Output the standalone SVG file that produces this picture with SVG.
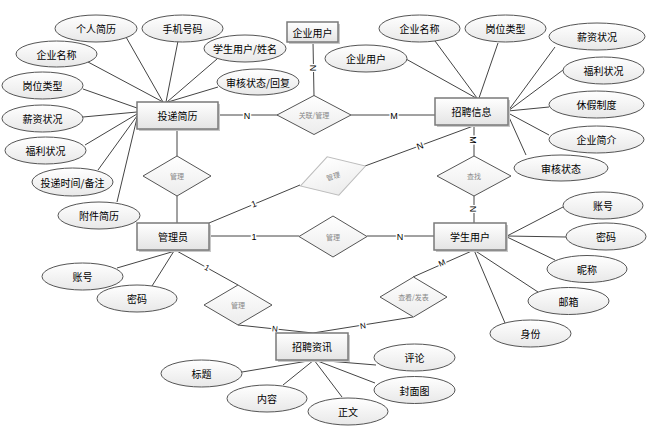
<svg xmlns="http://www.w3.org/2000/svg" width="657" height="434" viewBox="0 0 657 434">
<defs>
<linearGradient id="gEnt" x1="0" y1="0" x2="0" y2="1"><stop offset="0" stop-color="#ffffff"/><stop offset="1" stop-color="#e4e4e4"/></linearGradient>
<linearGradient id="gEll" x1="0" y1="0" x2="0" y2="1"><stop offset="0" stop-color="#ffffff"/><stop offset="1" stop-color="#e8e8e8"/></linearGradient>
<linearGradient id="gDia" x1="0" y1="0" x2="0" y2="1"><stop offset="0" stop-color="#ffffff"/><stop offset="1" stop-color="#ececec"/></linearGradient>
</defs>
<style>
.ln{stroke:#444;stroke-width:1;fill:none}
.ent{fill:url(#gEnt);stroke:#7a7a7a;stroke-width:1.5}
.sh{fill:#c8c8c8}
.ell{fill:url(#gEll);stroke:#555;stroke-width:1}
.dia{fill:url(#gDia);stroke:#555;stroke-width:1}
.diaf{fill:url(#gDia);stroke:#bdbdbd;stroke-width:1}
.t{font-family:"Noto Sans CJK SC","Liberation Sans",sans-serif;font-size:10px;fill:#000;text-anchor:middle;dominant-baseline:central}
.td{font-family:"Noto Sans CJK SC","Liberation Sans",sans-serif;font-size:7px;fill:#888;text-anchor:middle;dominant-baseline:central}
.lb{font-family:"Liberation Sans",sans-serif;font-size:9px;fill:#000;text-anchor:middle;dominant-baseline:central;stroke:#fff;stroke-width:3;paint-order:stroke}
</style>
<rect width="657" height="434" fill="#fff"/>
<g id="connectors">
<!-- 投递简历 attributes -->
<line class="ln" x1="126" y1="37" x2="163" y2="102"/>
<line class="ln" x1="178" y1="41" x2="166" y2="102"/>
<line class="ln" x1="88" y1="62" x2="163" y2="102"/>
<line class="ln" x1="217" y1="59" x2="167" y2="102"/>
<line class="ln" x1="218" y1="87" x2="168" y2="102"/>
<line class="ln" x1="83" y1="89" x2="137" y2="108"/>
<line class="ln" x1="83" y1="117" x2="137" y2="112"/>
<line class="ln" x1="85" y1="145" x2="137" y2="114"/>
<line class="ln" x1="98" y1="170" x2="137" y2="116"/>
<line class="ln" x1="117" y1="202" x2="137" y2="118"/>
<!-- 招聘信息 attributes -->
<line class="ln" x1="435" y1="41" x2="477" y2="98"/>
<line class="ln" x1="498" y1="43" x2="479" y2="98"/>
<line class="ln" x1="406" y1="59" x2="476" y2="98"/>
<line class="ln" x1="555" y1="47" x2="508" y2="111"/>
<line class="ln" x1="563" y1="70" x2="508" y2="111"/>
<line class="ln" x1="549" y1="107" x2="508" y2="111"/>
<line class="ln" x1="549" y1="135" x2="508" y2="113"/>
<line class="ln" x1="526" y1="155" x2="508" y2="115"/>
<!-- 学生用户 attributes -->
<line class="ln" x1="563" y1="207" x2="507" y2="236"/>
<line class="ln" x1="566" y1="237" x2="507" y2="236"/>
<line class="ln" x1="555" y1="260" x2="507" y2="237"/>
<line class="ln" x1="538" y1="292" x2="474" y2="250"/>
<line class="ln" x1="505" y1="323" x2="474" y2="250"/>
<!-- 管理员 attributes -->
<line class="ln" x1="117" y1="268" x2="175" y2="251"/>
<line class="ln" x1="152" y1="286" x2="174" y2="251"/>
<!-- 招聘资讯 attributes -->
<line class="ln" x1="242" y1="372" x2="314" y2="360"/>
<line class="ln" x1="283" y1="385" x2="314" y2="360"/>
<line class="ln" x1="342" y1="397" x2="314" y2="360"/>
<line class="ln" x1="376" y1="365" x2="315" y2="360"/>
<line class="ln" x1="375" y1="383" x2="315" y2="360"/>
<!-- relationships -->
<line class="ln" x1="218" y1="115" x2="278" y2="115"/>
<line class="ln" x1="351" y1="115" x2="435" y2="115"/>
<line class="ln" x1="313" y1="42" x2="314" y2="96"/>
<line class="ln" x1="177" y1="129" x2="177" y2="156"/>
<line class="ln" x1="177" y1="196" x2="177" y2="223"/>
<line class="ln" x1="209" y1="223" x2="300" y2="185"/>
<line class="ln" x1="365" y1="166" x2="476" y2="125"/>
<line class="ln" x1="209" y1="236" x2="299" y2="236"/>
<line class="ln" x1="367" y1="236" x2="434" y2="236"/>
<line class="ln" x1="474" y1="125" x2="474" y2="156"/>
<line class="ln" x1="474" y1="196" x2="474" y2="223"/>
<line class="ln" x1="175" y1="250" x2="238" y2="285"/>
<line class="ln" x1="238" y1="325" x2="313" y2="333"/>
<line class="ln" x1="474" y1="250" x2="413" y2="277"/>
<line class="ln" x1="413" y1="317" x2="313" y2="333"/>
<!-- cardinality labels -->
<text class="lb" x="247" y="116">N</text>
<text class="lb" x="394" y="116">M</text>
<text class="lb" transform="rotate(90 313 68)" x="313" y="68">N</text>
<text class="lb" transform="rotate(-22 254 204)" x="254" y="204">1</text>
<text class="lb" transform="rotate(-20 420 146)" x="420" y="146">N</text>
<text class="lb" x="254" y="237">1</text>
<text class="lb" x="400" y="237">N</text>
<text class="lb" transform="rotate(90 473 140)" x="473" y="140">M</text>
<text class="lb" transform="rotate(90 473 209)" x="473" y="209">N</text>
<text class="lb" transform="rotate(29 207 268)" x="207" y="268" style="font-size:8px">1</text>
<text class="lb" transform="rotate(6 275 329)" x="275" y="329" style="font-size:8px">N</text>
<text class="lb" transform="rotate(-24 442 263)" x="442" y="263" style="font-size:8px">M</text>
<text class="lb" transform="rotate(-9 363 326)" x="363" y="326" style="font-size:8px">N</text>
</g>
<!-- entities -->
<g id="e_toudi"><rect class="sh" x="139" y="104" width="81" height="27"/><rect class="ent" x="137" y="102" width="81" height="27"/><text class="t" x="177.5" y="115.5">投递简历</text></g>
<g id="e_qiye"><rect class="sh" x="289" y="24" width="51" height="20"/><rect class="ent" x="287" y="22" width="51" height="20"/><text class="t" x="312.5" y="32">企业用户</text></g>
<g id="e_zhaopin"><rect class="sh" x="437" y="100" width="73" height="27"/><rect class="ent" x="435" y="98" width="73" height="27"/><text class="t" x="471.5" y="111.5">招聘信息</text></g>
<g id="e_admin"><rect class="sh" x="139" y="225" width="72" height="27"/><rect class="ent" x="137" y="223" width="72" height="27"/><text class="t" x="173" y="236.5">管理员</text></g>
<g id="e_student"><rect class="sh" x="436" y="225" width="72" height="27"/><rect class="ent" x="434" y="223" width="72" height="27"/><text class="t" x="470" y="236.5">学生用户</text></g>
<g id="e_zixun"><rect class="sh" x="278" y="335" width="72" height="27"/><rect class="ent" x="276" y="333" width="72" height="27"/><text class="t" x="312" y="346.5">招聘资讯</text></g>
<!-- relationships -->
<g id="r_guanlian"><polygon class="dia" points="277,115 314,95.5 351,115 314,134.5"/><text class="td" x="314" y="115">关联/管理</text></g>
<g id="r_guanli1"><polygon class="dia" points="143,176 177,156 211,176 177,196"/><text class="td" x="177" y="176">管理</text></g>
<g id="r_guanli_f" transform="rotate(-17 333 176)"><polygon class="diaf" points="299,176 333,156 367,176 333,196"/><text class="td" x="333" y="176">管理</text></g>
<g id="r_guanli2"><polygon class="dia" points="299,236.5 333,216 367,236.5 333,257"/><text class="td" x="333" y="236.5">管理</text></g>
<g id="r_chazhao"><polygon class="dia" points="437,176 474,156 511,176 474,196"/><text class="td" x="474" y="176">查找</text></g>
<g id="r_guanli3"><polygon class="dia" points="204,305 238,285 272,305 238,325"/><text class="td" x="238" y="305">管理</text></g>
<g id="r_chakan"><polygon class="dia" points="380,297 413.5,277 447,297 413.5,317"/><text class="td" x="413.5" y="297">查看/发表</text></g>
<!-- attributes -->
<g id="a1"><ellipse class="ell" cx="96" cy="28.5" rx="41" ry="13.5"/><text class="t" x="96" y="28.5">个人简历</text></g>
<g id="a2"><ellipse class="ell" cx="182.5" cy="28.5" rx="40.5" ry="13.5"/><text class="t" x="182.5" y="28.5">手机号码</text></g>
<g id="a3"><ellipse class="ell" cx="56.5" cy="54" rx="40.5" ry="13"/><text class="t" x="56.5" y="54">企业名称</text></g>
<g id="a4"><ellipse class="ell" cx="245" cy="48.5" rx="41" ry="13.5"/><text class="t" x="245" y="48.5">学生用户/姓名</text></g>
<g id="a5"><ellipse class="ell" cx="42.5" cy="85.5" rx="40.5" ry="13.5"/><text class="t" x="42.5" y="85.5">岗位类型</text></g>
<g id="a6"><ellipse class="ell" cx="258" cy="82" rx="41" ry="13"/><text class="t" x="258" y="82">审核状态/回复</text></g>
<g id="a7"><ellipse class="ell" cx="42.5" cy="118.5" rx="40.5" ry="13.5"/><text class="t" x="42.5" y="118.5">薪资状况</text></g>
<g id="a8"><ellipse class="ell" cx="45.5" cy="150.5" rx="40.5" ry="13.5"/><text class="t" x="45.5" y="150.5">福利状况</text></g>
<g id="a9"><ellipse class="ell" cx="72.5" cy="182" rx="40.5" ry="14"/><text class="t" x="72.5" y="182">投递时间/备注</text></g>
<g id="a10"><ellipse class="ell" cx="99" cy="215.5" rx="41" ry="13.5"/><text class="t" x="99" y="215.5">附件简历</text></g>
<g id="a11"><ellipse class="ell" cx="419.5" cy="28.5" rx="40.5" ry="13.5"/><text class="t" x="419.5" y="28.5">企业名称</text></g>
<g id="a12"><ellipse class="ell" cx="505.5" cy="28.5" rx="40.5" ry="13.5"/><text class="t" x="505.5" y="28.5">岗位类型</text></g>
<g id="a13"><ellipse class="ell" cx="366" cy="58.5" rx="41" ry="13.5"/><text class="t" x="366" y="58.5">企业用户</text></g>
<g id="a14"><ellipse class="ell" cx="597" cy="36.5" rx="48" ry="13.5"/><text class="t" x="597" y="36.5">薪资状况</text></g>
<g id="a15"><ellipse class="ell" cx="603.5" cy="70.5" rx="40.5" ry="13.5"/><text class="t" x="603.5" y="70.5">福利状况</text></g>
<g id="a16"><ellipse class="ell" cx="596.5" cy="104.5" rx="47.5" ry="13.5"/><text class="t" x="596.5" y="104.5">休假制度</text></g>
<g id="a17"><ellipse class="ell" cx="596.5" cy="139.5" rx="47.5" ry="13.5"/><text class="t" x="596.5" y="139.5">企业简介</text></g>
<g id="a18"><ellipse class="ell" cx="561" cy="168" rx="47" ry="13"/><text class="t" x="561" y="168">审核状态</text></g>
<g id="a19"><ellipse class="ell" cx="603" cy="205.5" rx="40" ry="13.5"/><text class="t" x="603" y="205.5">账号</text></g>
<g id="a20"><ellipse class="ell" cx="606" cy="236.5" rx="40" ry="13.5"/><text class="t" x="606" y="236.5">密码</text></g>
<g id="a21"><ellipse class="ell" cx="587" cy="269" rx="40" ry="13.5"/><text class="t" x="587" y="269">昵称</text></g>
<g id="a22"><ellipse class="ell" cx="568.5" cy="301" rx="40.5" ry="13.5"/><text class="t" x="568.5" y="301">邮箱</text></g>
<g id="a23"><ellipse class="ell" cx="530.5" cy="333.5" rx="40.5" ry="13.5"/><text class="t" x="530.5" y="333.5">身份</text></g>
<g id="a24"><ellipse class="ell" cx="82.5" cy="276.5" rx="40.5" ry="13.5"/><text class="t" x="82.5" y="276.5">账号</text></g>
<g id="a25"><ellipse class="ell" cx="137" cy="298.5" rx="40" ry="13.5"/><text class="t" x="137" y="298.5">密码</text></g>
<g id="a26"><ellipse class="ell" cx="201.5" cy="373.5" rx="40.5" ry="13.5"/><text class="t" x="201.5" y="373.5">标题</text></g>
<g id="a27"><ellipse class="ell" cx="267" cy="398.5" rx="40" ry="13.5"/><text class="t" x="267" y="398.5">内容</text></g>
<g id="a28"><ellipse class="ell" cx="348" cy="411.5" rx="40" ry="13.5"/><text class="t" x="348" y="411.5">正文</text></g>
<g id="a29"><ellipse class="ell" cx="414.5" cy="357.5" rx="40.5" ry="13.5"/><text class="t" x="414.5" y="357.5">评论</text></g>
<g id="a30"><ellipse class="ell" cx="414.5" cy="390" rx="40.5" ry="13.5"/><text class="t" x="414.5" y="390">封面图</text></g>
</svg>
